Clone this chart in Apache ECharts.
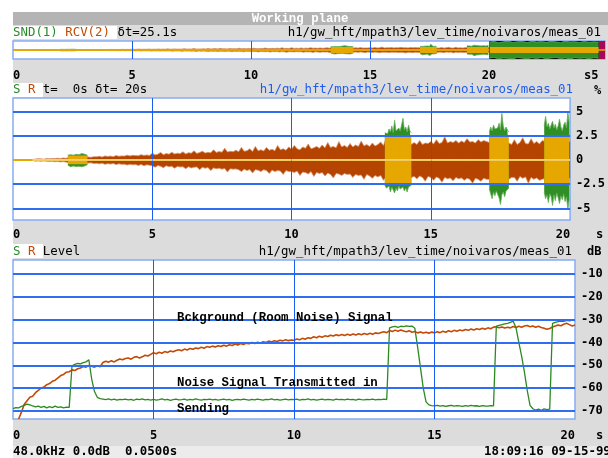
<!DOCTYPE html>
<html><head><meta charset="utf-8">
<script src="https://cdn.jsdelivr.net/npm/echarts@6.0.0/dist/echarts.min.js"></script>
<style>
html,body{margin:0;padding:0;background:#fff;overflow:hidden}
#wrap{position:relative;width:608px;height:458px}
.bg{position:absolute}
#c{position:absolute;left:0;top:0;width:608px;height:458px}
</style></head><body>
<div id="wrap">
<div class="bg" style="left:13px;top:12px;width:595px;height:446px;background:#dcdcdc"></div>
<div class="bg" style="left:13px;top:12px;width:595px;height:13px;background:#b4b4b4"></div>
<div class="bg" style="left:13px;top:26px;width:104px;height:13px;background:#fff"></div>
<div class="bg" style="left:13px;top:83px;width:30px;height:14px;background:#fff"></div>
<div class="bg" style="left:13px;top:244px;width:30px;height:14px;background:#fff"></div>
<div class="bg" style="left:13px;top:446px;width:595px;height:12px;background:#ececec"></div>
<div id="c"></div></div>
<script>
// ---------------- DATA ----------------
// waveform envelope (%), sampled every 0.1 s from 0 s to 20 s
const waveStep = 0.1;
const rHi = [
 0,0,0,0,0,0,0,0.05,0.1,0.12,
 0.12,0.08,0.15,0.12,0.16,0.14,0.18,0.15,0.2,0.18,
 0.22,0.25,0.25,0.25,0.25,0.28,0.26,0.3,0.28,0.34,
 0.32,0.38,0.3,0.42,0.36,0.4,0.34,0.46,0.38,0.42,
 0.4,0.5,0.42,0.48,0.45,0.44,0.55,0.47,0.52,0.46,
 0.7,0.52,0.6,0.78,0.55,0.66,0.6,0.8,0.62,0.7,
 0.65,0.85,0.62,0.75,0.7,0.95,0.68,0.78,0.9,0.72,
 0.8,0.74,1.05,0.78,0.88,0.8,1.2,0.82,0.9,0.85,
 1.0,0.86,1.3,0.9,0.95,1.15,0.88,1.4,0.95,1.05,
 0.92,1.3,1.0,1.1,0.95,1.5,1.05,1.15,1.0,1.35,
 1.1,1.5,1.15,1.05,1.35,1.2,1.65,1.15,1.25,1.4,
 1.2,1.55,1.25,1.8,1.3,1.4,1.25,1.9,1.35,1.5,
 1.3,1.7,1.35,1.55,1.4,1.95,1.45,1.6,1.4,1.75,
 1.45,1.6,1.85,1.5,2.3,1.6,1.7,1.7,1.7,1.7,
 1.7,1.7,1.7,1.6,1.8,1.6,2.0,1.6,1.75,1.7,
 1.9,1.65,2.1,1.7,1.8,2.4,1.75,1.9,1.8,2.0,
 1.75,1.95,1.8,2.2,1.85,1.9,1.75,2.1,1.85,2.0,
 1.9,1.8,1.9,1.9,1.9,1.9,1.9,1.9,1.75,1.6,
 2.1,1.6,1.8,2.3,1.7,1.65,2.2,1.7,1.9,1.65,
 2.0,1.9,1.9,1.9,1.9,1.9,1.9,1.9,1.9,1.9,
 1.9];
const rLo = [
 0,0,0,0,0,0,0,0.05,0.12,0.1,
 0.14,0.1,0.12,0.16,0.13,0.18,0.15,0.2,0.17,0.22,
 0.25,0.25,0.28,0.26,0.28,0.3,0.27,0.32,0.3,0.36,
 0.35,0.4,0.33,0.45,0.38,0.42,0.36,0.48,0.4,0.45,
 0.44,0.52,0.45,0.5,0.48,0.56,0.46,0.6,0.5,0.55,
 0.6,0.75,0.58,0.66,0.8,0.6,0.7,0.65,0.85,0.68,
 0.72,0.7,0.9,0.7,0.82,0.75,0.72,1.0,0.76,0.85,
 0.78,1.1,0.82,0.9,0.85,0.95,0.88,1.25,0.9,0.95,
 0.92,1.0,1.2,0.95,1.1,0.98,1.35,1.0,1.05,1.2,
 1.0,1.1,1.4,1.05,1.2,1.1,1.15,1.5,1.1,1.2,
 1.2,1.3,1.15,1.6,1.25,1.3,1.45,1.2,1.7,1.3,
 1.4,1.3,1.65,1.35,1.5,1.85,1.4,1.45,1.6,1.4,
 1.5,1.45,1.8,1.5,1.6,1.55,2.0,1.5,1.65,1.9,
 1.6,1.75,1.6,2.1,1.7,1.7,1.7,1.7,1.7,1.7,
 1.7,1.7,1.7,1.8,1.7,1.95,1.65,1.8,2.2,1.7,
 1.8,2.1,1.75,1.9,2.3,1.8,1.95,1.85,2.15,1.8,
 1.95,1.85,2.1,1.9,2.0,2.4,1.9,2.0,2.2,1.9,
 2.0,2.0,1.9,1.9,1.9,1.9,1.9,1.9,2.0,1.8,
 1.8,2.2,1.7,1.9,1.75,2.4,1.8,2.0,1.85,2.1,
 2.0,1.9,1.9,1.9,1.9,1.9,1.9,1.9,1.9,1.9,
 1.9];
// send-signal bursts (S), envelope sampled every 0.05 s
const burstStep = 0.05;
const burstStart = [1.97, 13.35, 17.1, 19.07];
const burstHi = [
 [0.5,0.6,0.55,0.65,0.5,0.62,0.58,0.7,0.55,0.6,0.66,0.52,0.6,0.55,0.5],
 [2.8,3.0,2.7,3.2,2.9,3.5,2.8,4.1,3.0,2.9,3.3,3.0,3.6,4.3,3.1,3.4,2.9,3.6,3.0,2.8],
 [2.9,3.4,3.0,3.6,3.2,3.0,3.3,3.8,3.1,4.8,3.5,3.0,3.4,3.1,2.9],
 [3.5,4.5,3.4,3.8,3.2,3.6,4.0,3.3,3.7,3.1,3.5,4.2,3.4,3.0,3.6,3.9,3.3,4.9,3.8]];
const burstLo = [
 [0.55,0.6,0.7,0.55,0.62,0.5,0.68,0.6,0.65,0.55,0.7,0.58,0.62,0.6,0.5],
 [2.6,2.9,3.1,2.7,3.3,2.8,3.0,3.4,2.9,3.2,2.7,3.0,3.1,2.8,3.2,2.9,3.3,2.8,2.9,2.6],
 [3.0,3.5,4.0,3.3,3.7,3.2,3.4,3.9,4.6,3.6,3.3,3.8,3.2,3.1,2.9],
 [3.3,4.0,3.6,4.4,3.5,3.8,4.7,3.6,4.2,3.4,3.9,4.5,3.7,4.1,3.5,4.3,3.8,5.1,4.0]];
const burstYellow = [0.45, 2.45, 2.5, 2.45];
// overview strip tail beyond 20 s, sampled every 0.2 s
const tailStart = 20.0, tailStep = 0.2;
const tailHi = [6.5,7.2,6.0,6.8,7.4,6.3,6.9,7.1,6.2,7.3,6.6,7.0,6.4,7.2,6.8,6.1,7.4,6.7,6.9,6.3,7.1,6.5,6.8,6.6];
const tailLo = [6.8,6.2,7.3,6.6,6.9,7.4,6.1,6.8,7.2,6.5,7.0,6.3,7.3,6.7,6.2,7.1,6.6,7.4,6.4,6.9,6.6,7.2,6.5,6.8];
const tailYellow = 2.6;
const overviewEnd = 24.87, overviewMark = 24.6;
// levels (dB), sampled every 0.1 s
const levStep = 0.1;
const rLevStart = 0.2;
const rLev = [
 -73.5,-70.5,-67,-65.5,-64,-63.5,-62,-61,
 -60,-59.5,-58.5,-58,-57,-56.5,-55.5,-54.5,-54,-53,
 -52.8,-52,-52.3,-51.5,-51.2,-50.5,-50.8,-50,-50.4,-50.8,
 -50.2,-50.6,-48.8,-48.2,-48.6,-48,-48.5,-47.8,-47.2,-47.6,
 -47,-46.8,-47.3,-46.5,-46.2,-46.8,-46.3,-45.6,-45.9,-45.2,
 -44.5,-44.9,-44.3,-44.7,-44,-44.4,-43.7,-44.1,-43.5,-43.2,
 -43.6,-42.9,-43.3,-42.6,-43,-42.4,-42.7,-42.1,-42.5,-41.8,
 -42.1,-41.6,-42,-41.4,-41.8,-41.2,-41.6,-41,-41.3,-40.7,
 -41.1,-40.5,-40.9,-40.3,-40.6,-40,-40.5,-39.9,-40.3,-39.7,
 -40,-39.4,-39.8,-39.2,-39.6,-39,-39.3,-38.8,-39.2,-38.9,
 -39,-38.5,-38.8,-38.2,-38.6,-37.9,-38.2,-37.5,-37.9,-37.3,
 -37.7,-37.1,-37.4,-36.8,-37.2,-36.6,-37,-36.5,-36.9,-36.4,
 -36.8,-36.3,-36.7,-36.2,-36.6,-36.1,-36.5,-36,-36.4,-35.8,
 -36.1,-35.6,-35.3,-35.7,-34.8,-35.2,-34.6,-35.1,-34.5,-35,
 -35.3,-34.9,-35.5,-35.2,-35.8,-35.4,-35.9,-35.5,-36,-35.4,
 -35.8,-35.3,-35.7,-35.1,-35.5,-34.9,-35.3,-34.7,-35.1,-34.5,
 -34.9,-34.3,-34.7,-34.1,-34.5,-34,-34.3,-33.8,-34.2,-33.6,
 -34,-33.3,-33.1,-33.6,-33.2,-33.7,-33.3,-33.6,-33,-33.4,
 -32.9,-33.3,-32.8,-32.6,-33.1,-32.8,-33.3,-32.9,-33.4,-33.8,
 -34.2,-33.9,-33.2,-32.8,-32.4,-32.7,-32,-31.6,-32.2,-32.8,
 -32.4];
const sLevStart = 0;
const sLev = [
 -69,-68.5,-68.6,-68,-67.5,-67,-67.3,-67.8,-68.2,-67.9,
 -68.4,-68,-68.6,-68.1,-68.5,-67.9,-68.4,-68.2,-68.6,-68.3,-68.4,
 -50.2,-49.6,-49.2,-49.4,-48.8,-48.5,-47.6,
 -56,-61.5,-64,-64.6,-64.8,
 -65,-64.7,-65.1,-64.8,-65.2,-64.9,-65,
 -64.8,-65.1,-64.9,-65.3,-64.8,-65,-64.7,-65.1,-64.9,-65.2,
 -64.9,-65.2,-65,-64.7,-65.1,-64.9,-65.3,-65,-64.8,-65.1,
 -65,-64.8,-65.2,-64.9,-65.1,-64.7,-65,-65.2,-64.9,-65,
 -64.8,-65.1,-64.9,-65.2,-65,-64.8,-65.1,-64.9,-65.3,-65,
 -64.9,-65.1,-64.8,-65,-65.2,-64.9,-65.1,-64.8,-65,-65.2,
 -64.9,-65,-64.7,-65.1,-64.9,-65.2,-65,-64.8,-65.1,-64.9,
 -65,-64.8,-65.2,-64.9,-65,-64.7,-65.1,-64.9,-65.2,-65,
 -64.8,-65.1,-64.9,-65,-65.2,-64.8,-65,-64.9,-65.1,-64.8,
 -65,-64.9,-65.2,-64.8,-65,-65.1,-64.9,-65,-64.8,-65.1,
 -64.9,-65,-64.8,-65,
 -33.6,-33.2,-33,-33.4,-32.9,-33.1,-32.7,-33,-32.8,-33.8,
 -42,-51,-60,-66,-67.3,-67.6,
 -67.8,-67.5,-67.9,-67.6,-68,-67.7,-67.5,-67.9,-67.6,-67.8,
 -68,-67.6,-67.9,-67.5,-67.8,-67.7,-68,-67.6,-67.8,-67.9,-67.6,-67.8,
 -32.8,-32.5,-32.2,-31.9,-31.6,-31.2,-30.7,
 -33.5,-40,-46,-53,-61,-67.5,
 -69,-69.6,-69.2,-69.7,-69.1,-69.4,-69.2,
 -31.6,-31.2,-30.9,-30.6,-30.8,-30.3,-30.5,-30.2,-30.4];
const xTicks = [0, 5, 10, 15, 20];
const waveTicks = [5, 2.5, 0, -2.5, -5];
const levTicks = [-10, -20, -30, -40, -50, -60, -70];
const ovTicks = [5, 10, 15, 20];

// ---------------- BUILD ----------------
const r3 = v => Math.round(v * 1000) / 1000;
function series1(arr, t0, step, sign) { return arr.map((v, i) => [r3(t0 + i * step), sign * v]); }
function burstData(sign) {
  const out = [];
  burstStart.forEach((s, b) => {
    const a = sign > 0 ? burstHi[b] : burstLo[b];
    a.forEach((v, k) => out.push([r3(s + k * burstStep), sign * v]));
    out.push([r3(s + (a.length - 1) * burstStep), null]);
  });
  return out;
}
function yellowData(sign) {
  const out = [];
  burstStart.forEach((s, b) => {
    const e = r3(s + (burstHi[b].length - 1) * burstStep);
    out.push([s, sign * burstYellow[b]], [e, sign * burstYellow[b]], [e, null]);
  });
  return out;
}
const tailEnd = r3(tailStart + (tailHi.length - 1) * tailStep);
const tailG = sign => series1(sign > 0 ? tailHi : tailLo, tailStart, tailStep, sign);
const tailY = sign => [[tailStart, sign * tailYellow], [tailEnd, sign * tailYellow]];

const BROWN = '#b54400', BROWN_L = '#d9946a', GREEN = '#2f8f25', GREEN_L = '#62ad55', YELLOW = '#e6a800';
const GRID_H = '#2f6ef0', GRID_V = '#1a5cf0';
const MONO = "'DejaVu Sans Mono', monospace";
const COUR = "'Liberation Mono', monospace";
const labelStyle = { color: '#000', fontFamily: MONO, fontWeight: 'bold', fontSize: 12 };

function area(xi, data, fill, edge, z, extra) {
  return Object.assign({ type: 'line', xAxisIndex: xi, yAxisIndex: xi, data, showSymbol: false, symbol: 'none',
    connectNulls: false, silent: true, z, lineStyle: { color: edge, width: 0.8 }, areaStyle: { color: fill, opacity: 1 } }, extra || {});
}
const noLabel = { show: false };
function mline(items) {
  return { silent: true, symbol: ['none', 'none'], label: noLabel, animation: false, emphasis: { disabled: true }, data: items };
}

const series = [];
// overview strip
series.push(area(0, series1(rHi, 0, waveStep, 1), BROWN, BROWN_L, 1, {
  markArea: { silent: true, data: [
    [{ xAxis: tailStart, itemStyle: { color: '#000' } }, { xAxis: overviewEnd }],
    [{ xAxis: overviewMark, itemStyle: { color: '#a8085a' } }, { xAxis: overviewEnd }]] } }));
series.push(area(0, series1(rLo, 0, waveStep, -1), BROWN, BROWN_L, 1));
series.push(area(0, burstData(1).concat(tailG(1)), GREEN, GREEN_L, 2));
series.push(area(0, burstData(-1).concat(tailG(-1)), GREEN, GREEN_L, 2));
series.push(area(0, yellowData(1).concat(tailY(1)), YELLOW, YELLOW, 3, { lineStyle: { width: 0 } }));
series.push(area(0, yellowData(-1).concat(tailY(-1)), YELLOW, YELLOW, 3, { lineStyle: { width: 0 } }));
series.push({ type: 'line', xAxisIndex: 0, yAxisIndex: 0, data: xTicks.map(t => [t, 0]), symbol: 'none', silent: true, z: 4,
  lineStyle: { color: YELLOW, width: 1.5 },
  markLine: mline([{ yAxis: 0, lineStyle: { color: YELLOW, width: 1.5, type: 'solid' } }]
    .concat(ovTicks.map(v => ({ xAxis: v, lineStyle: { color: GRID_V, width: 1, type: 'solid' } })))) });
// middle: waveform
series.push(area(1, series1(rHi, 0, waveStep, 1), BROWN, BROWN_L, 1));
series.push(area(1, series1(rLo, 0, waveStep, -1), BROWN, BROWN_L, 1));
series.push(area(1, burstData(1), GREEN, GREEN_L, 2));
series.push(area(1, burstData(-1), GREEN, GREEN_L, 2));
series.push(area(1, yellowData(1), YELLOW, YELLOW, 3, { lineStyle: { width: 0 } }));
series.push(area(1, yellowData(-1), YELLOW, YELLOW, 3, { lineStyle: { width: 0 } }));
series.push({ type: 'line', xAxisIndex: 1, yAxisIndex: 1, data: xTicks.map(t => [t, 0]), symbol: 'none', silent: true, z: 4,
  lineStyle: { color: YELLOW, width: 2 } });
series.push({ type: 'line', xAxisIndex: 1, yAxisIndex: 1, data: rHi.map((v, i) => [r3(i * waveStep), v > 0 ? 0 : null]),
  symbol: 'none', silent: true, z: 5, connectNulls: false, lineStyle: { color: '#fff6dc', width: 1 },
  markLine: mline(waveTicks.filter(v => v !== 0).map(v => ({ yAxis: v, lineStyle: { color: GRID_H, width: 1.8, type: 'solid' } }))
    .concat(xTicks.filter(v => v > 0 && v < 20).map(v => ({ xAxis: v, lineStyle: { color: GRID_V, width: 1, type: 'solid' } })))) });
// bottom: levels
series.push({ type: 'line', xAxisIndex: 2, yAxisIndex: 2, data: series1(rLev, rLevStart, levStep, 1), symbol: 'none', silent: true, z: 2,
  lineStyle: { color: '#c24a06', width: 1.6 },
  markLine: mline(levTicks.map(v => ({ yAxis: v, lineStyle: { color: GRID_H, width: 1.8, type: 'solid' } }))
    .concat(xTicks.filter(v => v > 0 && v < 20).map(v => ({ xAxis: v, lineStyle: { color: GRID_V, width: 1, type: 'solid' } })))) });
series.push({ type: 'line', xAxisIndex: 2, yAxisIndex: 2, data: series1(sLev, sLevStart, levStep, 1), symbol: 'none', silent: true, z: 3,
  lineStyle: { color: '#2a8a1e', width: 1.3 } });

function txt(x, y, text, color, o) {
  o = o || {};
  return { type: 'text', x, y, silent: true, z: 10, style: { text, fill: color,
    font: (o.bold ? 'bold ' : '') + (o.size || 12.4) + 'px ' + (o.family || MONO),
    align: o.align || 'left', verticalAlign: 'middle' } };
}
const CW = 7.46;
const PATH = 'h1/gw_hft/mpath3/lev_time/noivaros/meas_01';
const graphic = [
  txt(300, 18.5, 'Working plane', '#fff', { bold: true, family: COUR, align: 'center' }),
  txt(13, 33, 'SND(1)', '#2a8a2a'), txt(13 + 7 * CW, 33, 'RCV(2)', '#c04a00'), txt(13 + 14 * CW, 33, 'δt=25.1s', '#000'),
  txt(601, 33, PATH, '#000', { align: 'right' }),
  txt(584, 76, 's5', '#000', { bold: true, size: 12 }),
  txt(13, 90, 'S', '#2a8a2a'), txt(13 + 2 * CW, 90, 'R', '#c04a00'), txt(13 + 4 * CW, 90, 't=  0s δt= 20s', '#000'),
  txt(573, 90, PATH, '#1e5cf0', { align: 'right' }),
  txt(594, 91, '%', '#000', { bold: true, size: 12 }),
  txt(596, 235, 's', '#000', { bold: true, size: 12 }),
  txt(13, 251.5, 'S', '#2a8a2a'), txt(13 + 2 * CW, 251.5, 'R', '#c04a00'), txt(13 + 4 * CW, 251.5, 'Level', '#000'),
  txt(572, 251.5, PATH, '#000', { align: 'right' }),
  txt(587, 252, 'dB', '#000', { bold: true, size: 12 }),
  txt(596, 436, 's', '#000', { bold: true, size: 12 }),
  txt(177, 318, 'Bckground (Room Noise) Signal', '#000', { bold: true, family: COUR }),
  txt(177, 383, 'Noise Signal Transmitted in', '#000', { bold: true, family: COUR }),
  txt(177, 409, 'Sending', '#000', { bold: true, family: COUR }),
  txt(13, 452, '48.0kHz 0.0dB  0.0500s', '#000', { bold: true }),
  txt(484, 452, '18:09:16 09-15-99', '#000', { bold: true })
];

const gridBase = { show: true, backgroundColor: '#fff', borderColor: '#86acf5', borderWidth: 1.5 };
const xBase = { type: 'value', min: 0, interval: 5, axisLine: { show: false }, axisTick: { show: false }, splitLine: { show: false } };
const yBase = { type: 'value', position: 'right', axisLine: { show: false }, axisTick: { show: false }, splitLine: { show: false } };
const option = {
  animation: false,
  grid: [
    Object.assign({ left: 13, top: 41, width: 592, height: 18 }, gridBase),
    Object.assign({ left: 13, top: 98, width: 562, height: 122 }, gridBase),
    Object.assign({ left: 13, top: 260, width: 562, height: 159 }, gridBase)],
  xAxis: [
    Object.assign({ gridIndex: 0, max: overviewEnd, axisLabel: Object.assign({ margin: 11, alignMinLabel: 'left', customValues: xTicks }, labelStyle) }, xBase),
    Object.assign({ gridIndex: 1, max: 20, axisLabel: Object.assign({ margin: 9, alignMinLabel: 'left', alignMaxLabel: 'right', customValues: xTicks }, labelStyle) }, xBase),
    Object.assign({ gridIndex: 2, max: 20, axisLabel: Object.assign({ margin: 11, alignMinLabel: 'left', alignMaxLabel: 'right', customValues: xTicks }, labelStyle) }, xBase)],
  yAxis: [
    Object.assign({ gridIndex: 0, min: -7.5, max: 7.5, axisLabel: { show: false } }, yBase),
    Object.assign({ gridIndex: 1, min: -6.2, max: 6.4, axisLabel: Object.assign({ margin: 6, customValues: waveTicks }, labelStyle) }, yBase),
    Object.assign({ gridIndex: 2, min: -73.5, max: -3.9, axisLabel: Object.assign({ margin: 6, customValues: levTicks }, labelStyle) }, yBase)],
  series,
  graphic
};
const chart = echarts.init(document.getElementById('c'), null, { renderer: 'canvas' });
chart.setOption(option);
</script></body></html>
